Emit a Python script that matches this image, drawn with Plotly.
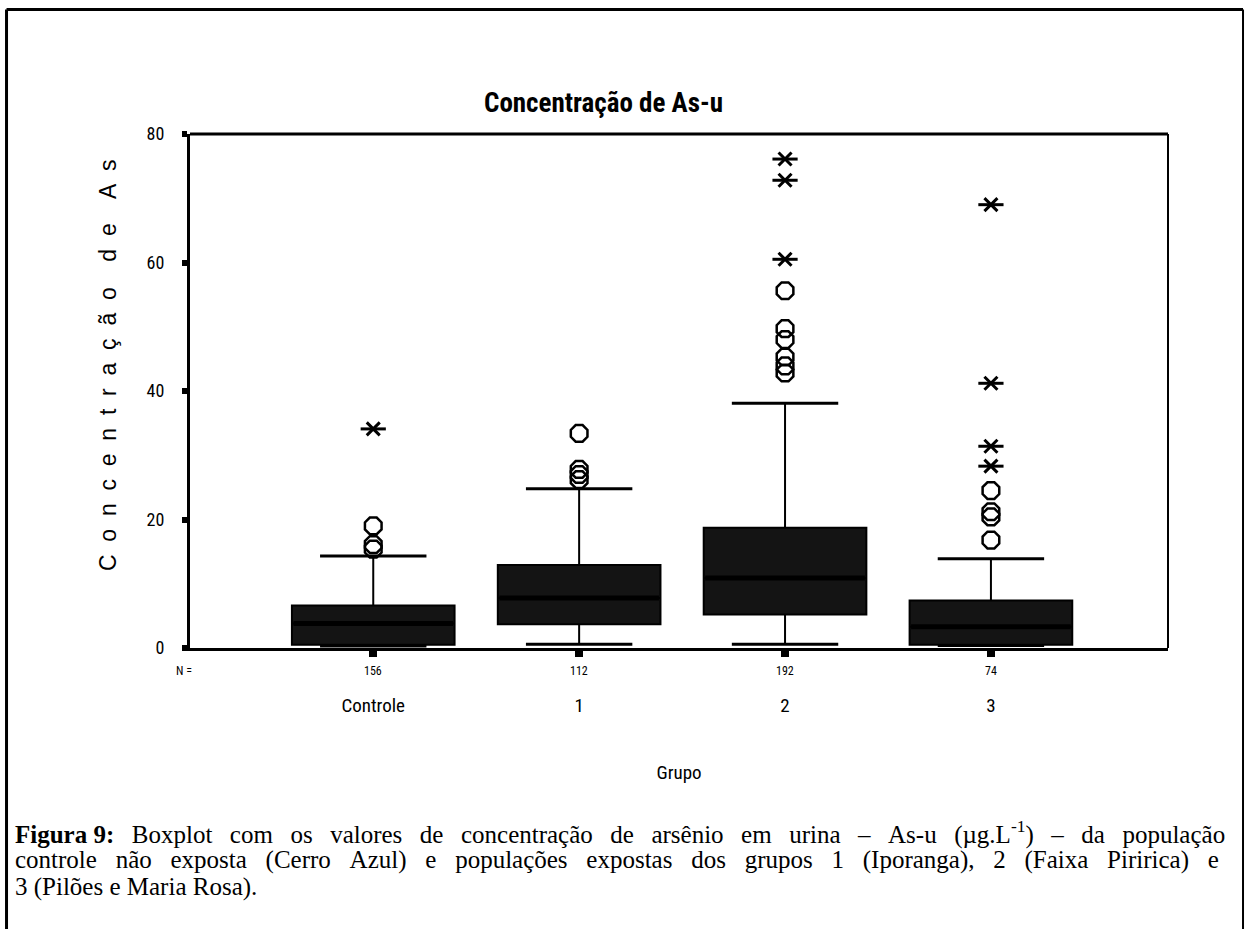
import plotly.graph_objects as go

# ---- data ----
groups = ["Controle", "1", "2", "3"]
n_values = [156, 112, 192, 74]
q1 = [0.5, 3.7, 5.2, 0.5]
median = [3.8, 7.8, 10.9, 3.3]
q3 = [6.6, 12.9, 18.7, 7.4]
lower_whisker = [0.3, 0.6, 0.6, 0.4]
upper_whisker = [14.3, 24.8, 38.1, 13.9]

# outliers (circles) and extremes (stars)
out_x = ["Controle", "Controle", "Controle",
         "1", "1", "1", "1",
         "2", "2", "2", "2", "2", "2",
         "3", "3", "3", "3"]
out_y = [19.0, 16.1, 15.4,
         33.4, 27.8, 27.0, 26.2,
         55.6, 49.7, 48.0, 45.3, 43.9, 42.8,
         24.5, 21.2, 20.4, 16.8]
ext_x = ["Controle", "2", "2", "2", "3", "3", "3", "3"]
ext_y = [34.1, 76.1, 72.8, 60.5, 69.0, 41.2, 31.4, 28.3]

y_ticks = [0, 20, 40, 60, 80]

caption_words = [
    ["<b>Figura\u00a09:</b>", "Boxplot", "com", "os", "valores", "de", "concentração", "de", "arsênio",
     "em", "urina", "–", "As-u", "(µg.L<sup>-1</sup>)", "–", "da", "população"],
    ["controle", "não", "exposta", "(Cerro", "Azul)", "e", "populações", "expostas", "dos", "grupos",
     "1", "(Iporanga),", "2", "(Faixa", "Piririca)", "e"],
    ["3", "(Pilões", "e", "Maria", "Rosa)."],
]

NARROW = "Liberation Sans Narrow, Arial Narrow, Roboto Condensed, Roboto, sans-serif"
SERIF = "Liberation Serif, Times New Roman, serif"

fig = go.Figure()

fig.add_trace(go.Box(
    x=groups, q1=q1, median=median, q3=q3,
    lowerfence=lower_whisker, upperfence=upper_whisker,
    fillcolor="#141414", line=dict(color="black", width=2),
    width=0.79, whiskerwidth=0, boxpoints=False, showlegend=False,
    hoverinfo="skip",
))

# whisker caps
for vals in (upper_whisker, lower_whisker):
    fig.add_trace(go.Scatter(
        x=groups, y=vals, mode="markers", showlegend=False, hoverinfo="skip",
        marker=dict(symbol="line-ew", size=76, color="black",
                    line=dict(color="black", width=3)),
    ))

# thick median bands
fig.add_trace(go.Scatter(
    x=groups, y=median, mode="markers", showlegend=False, hoverinfo="skip",
    marker=dict(symbol="line-ew", size=114, color="black",
                line=dict(color="black", width=5)),
))

# circles
fig.add_trace(go.Scatter(
    x=out_x, y=out_y, mode="markers", showlegend=False,
    marker=dict(symbol="octagon-open", size=18, color="black",
                line=dict(color="black", width=2.5)),
))
# stars: X + horizontal bar
fig.add_trace(go.Scatter(
    x=ext_x, y=ext_y, mode="markers", showlegend=False,
    marker=dict(symbol="x-thin-open", size=13, color="black",
                line=dict(color="black", width=3)),
))
fig.add_trace(go.Scatter(
    x=ext_x, y=ext_y, mode="markers", showlegend=False,
    marker=dict(symbol="line-ew-open", size=18, color="black",
                line=dict(color="black", width=3)),
))

# N = row
fig.add_annotation(x=0.004, y=-0.045, xref="paper", yref="paper", text="N =",
                   showarrow=False, xanchor="right", yanchor="middle",
                   font=dict(family=NARROW, size=12, color="black"))
for g, n in zip(groups, n_values):
    fig.add_annotation(x=g, y=-0.045, xref="x", yref="paper", text=str(n),
                       showarrow=False, yanchor="middle",
                       font=dict(family=NARROW, size=12, color="black"))

# title
fig.add_annotation(x=0.4223, y=1.0603, xref="paper", yref="paper",
                   text="<b>Concentração de As-u</b>", showarrow=False,
                   xanchor="center", yanchor="middle",
                   font=dict(family=NARROW, size=27, color="black"))

# y-axis title (spaced letters), placed like the reference
ytitle = "\u00a0\u00a0\u00a0 ".join(
    "\u00a0 ".join(list(w)) for w in ["Concentração", "de", "As"])
fig.add_annotation(x=-0.0838, y=0.5506, xref="paper", yref="paper", text=ytitle,
                   textangle=-90, showarrow=False, xanchor="center", yanchor="middle",
                   font=dict(family="Liberation Sans, Arial, sans-serif", size=23, color="black"))

# caption (one annotation per line, widened word gaps to mimic justification)
cap_y = [-0.358, -0.4125, -0.465]
cap_gap = [" \u00a0\u2009", " \u00a0\u00a0", " "]
for words, yy, gap in zip(caption_words, cap_y, cap_gap):
    fig.add_annotation(x=-0.1806, y=yy, xref="paper", yref="paper",
                       text=gap.join(words),
                       showarrow=False, xanchor="left", yanchor="middle", align="left",
                       font=dict(family=SERIF, size=25, color="black"))

# outer frame
fig.add_shape(type="line", xref="paper", yref="paper", x0=-0.1876, x1=-0.1876, y0=1.242, y1=-0.6,
              line=dict(color="black", width=3))
fig.add_shape(type="line", xref="paper", yref="paper", x0=-0.1876, x1=1.0767, y0=1.242, y1=1.242,
              line=dict(color="black", width=3))
fig.add_shape(type="line", xref="paper", yref="paper", x0=1.0767, x1=1.0767, y0=1.242, y1=-0.6,
              line=dict(color="black", width=2))
# plot frame top / right
fig.add_shape(type="line", xref="paper", yref="paper", x0=0, x1=1, y0=1, y1=1,
              line=dict(color="black", width=3))
fig.add_shape(type="line", xref="paper", yref="paper", x0=1, x1=1, y0=0, y1=1,
              line=dict(color="black", width=2))

fig.update_layout(
    width=1246, height=929,
    margin=dict(l=190, r=78, t=134, b=281),
    plot_bgcolor="white", paper_bgcolor="white",
    font=dict(family=NARROW, color="black"),
    xaxis=dict(
        type="category", categoryorder="array", categoryarray=groups,
        range=[-0.89, 3.86], showgrid=False, zeroline=False,
        showline=True, linecolor="black", linewidth=3,
        ticks="outside", ticklen=6, tickwidth=8, tickcolor="black",
        tickfont=dict(family=NARROW, size=19), ticklabelstandoff=32,
        title=dict(text="Grupo", font=dict(family=NARROW, size=19), standoff=50),
    ),
    yaxis=dict(
        range=[0, 80], tickvals=y_ticks, showgrid=False, zeroline=False,
        showline=True, linecolor="black", linewidth=3,
        ticks="outside", ticklen=5, tickwidth=6, tickcolor="black",
        tickfont=dict(family=NARROW, size=18), ticklabelstandoff=14,
    ),
)

fig.write_html("out.html")
